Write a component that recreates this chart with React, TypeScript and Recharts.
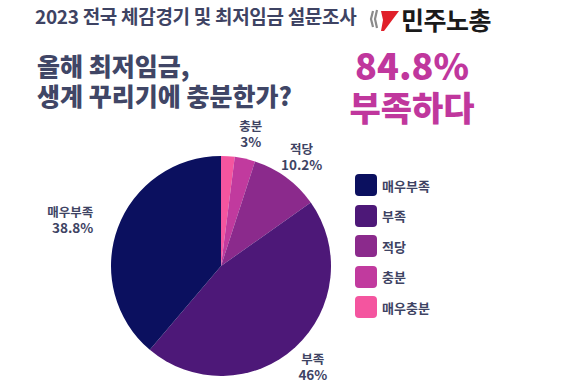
import { Cell, Legend, Pie, PieChart } from "recharts";

const categories = ["매우충분", "충분", "적당", "부족", "매우부족"];
const shares = [2, 3, 10.2, 46, 38.8];
const labelText = ["", "3%", "10.2%", "46%", "38.8%"];
const colors = ["#f4559f", "#c13a9e", "#8b2a8c", "#4d1878", "#0b105f"];

const data = categories.map((name, i) => ({ name, value: shares[i], text: labelText[i], color: colors[i] }));

const FONT = "'Noto Sans CJK KR', 'Noto Sans', sans-serif";
const INK = "#3e4363";
const RAD = Math.PI / 180;

function SliceLabel(props: any) {
  const { cx, cy, midAngle, outerRadius, payload } = props;
  if (!payload.text) return null;
  const r = outerRadius + 26;
  const x = cx + r * Math.cos(-midAngle * RAD);
  const y = cy + r * Math.sin(-midAngle * RAD);
  const anchor = x < cx - r * 0.5 ? "end" : "middle";
  return (
    <text x={x} textAnchor={anchor} fill={INK} fontFamily={FONT} fontWeight={700} fontSize={12.5}>
      <tspan x={x} y={y - 2}>{payload.name}</tspan>
      <tspan x={x} y={y + 14} fontSize={13.5}>{payload.text}</tspan>
    </text>
  );
}

function LegendBox() {
  const rows = [...data].reverse();
  return (
    <div style={{ fontFamily: FONT }}>
      {rows.map((d) => (
        <div key={d.name} style={{ display: "flex", alignItems: "center", height: 30.5 }}>
          <div style={{ width: 22, height: 22, borderRadius: 4, background: d.color, marginRight: 5 }} />
          <span style={{ fontSize: 13, fontWeight: 700, color: INK }}>{d.name}</span>
        </div>
      ))}
    </div>
  );
}

function Logo() {
  return (
    <div style={{ position: "absolute", left: 368, top: 1, display: "flex", alignItems: "center" }}>
      <svg width={32} height={28} viewBox="0 0 32 28">
        <path d="M5 6 L3 14 L5 22" stroke="#8a8a8a" strokeWidth={2.2} fill="none" />
        <path d="M9 5 L7 14 L9 23" stroke="#8a8a8a" strokeWidth={2.2} fill="none" />
        <path d="M13 6 L31 6 L16 26 L13 26 L15 15 Z" fill="#e0202a" />
      </svg>
      <span style={{ fontFamily: FONT, fontWeight: 700, fontSize: 25, color: "#1a1a1a", marginLeft: 1, letterSpacing: -0.5 }}>
        민주노총
      </span>
    </div>
  );
}

export default function App() {
  return (
    <div style={{ position: "absolute", left: 0, top: 0, width: 572, height: 382, background: "#fff", overflow: "hidden" }}>
      <div style={{ position: "absolute", left: 35, top: 2, fontFamily: FONT, fontWeight: 700, fontSize: 19, color: INK, letterSpacing: -0.3 }}>
        2023 전국 체감경기 및 최저임금 설문조사
      </div>
      <Logo />
      <div style={{ position: "absolute", left: 37, top: 50, fontFamily: FONT, fontWeight: 900, fontSize: 25, lineHeight: "30px", color: "#404666" }}>
        올해 최저임금,
        <br />
        생계 꾸리기에 충분한가?
      </div>
      <div style={{ position: "absolute", left: 312, top: 44, width: 200, textAlign: "center", fontFamily: FONT, fontWeight: 900, fontSize: 36, lineHeight: "41px", color: "#c0379d" }}>
        84.8%
        <br />
        <span style={{ fontSize: 34 }}>부족하다</span>
      </div>
      <PieChart width={572} height={382} margin={{ top: 0, right: 0, bottom: 0, left: 0 }} style={{ position: "absolute", left: 0, top: 0 }}>
        <Pie
          data={data}
          dataKey="value"
          nameKey="name"
          cx={221}
          cy={266}
          outerRadius={110}
          startAngle={90}
          endAngle={-270}
          stroke="none"
          label={SliceLabel}
          labelLine={false}
          isAnimationActive={false}
        >
          {data.map((d) => (
            <Cell key={d.name} fill={d.color} />
          ))}
        </Pie>
        <Legend
          layout="vertical"
          content={<LegendBox />}
          wrapperStyle={{ position: "absolute", left: 355, top: 170, width: 120 }}
        />
      </PieChart>
    </div>
  );
}
